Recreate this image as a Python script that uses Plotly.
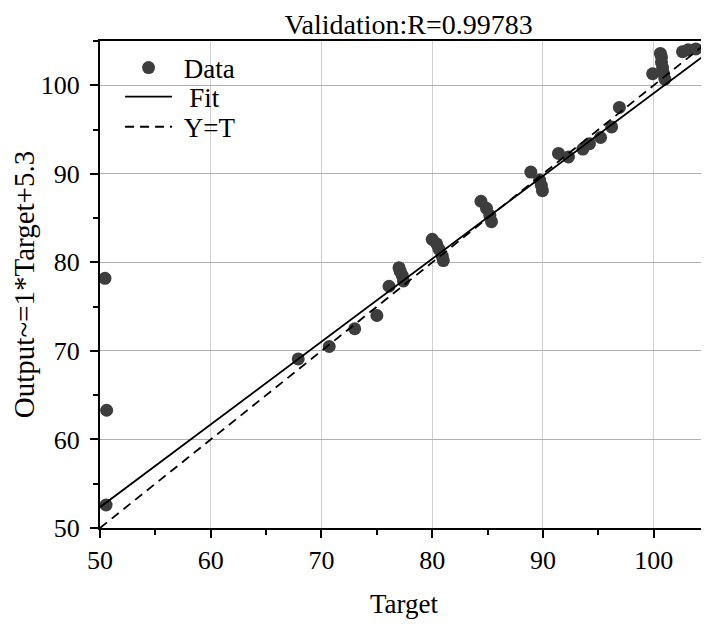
import plotly.graph_objects as go

title_text = "Validation:R=0.99783"
x_label = "Target"
y_label = "Output~=1*Target+5.3"

targets = [50.45, 50.6, 50.55, 67.9, 70.7, 73.0, 75.0, 76.1, 77.0, 77.1, 77.3, 77.4,
           80.0, 80.4, 80.6, 80.9, 81.0, 84.4, 84.9, 85.2, 85.35, 88.9, 89.7, 89.85,
           89.95, 91.4, 92.3, 93.6, 94.2, 95.2, 96.2, 96.9, 99.9, 100.6, 100.7, 100.7,
           100.8, 100.9, 101.0, 102.6, 103.1, 103.8]
outputs = [78.2, 63.3, 52.6, 69.1, 70.5, 72.5, 74.0, 77.3, 79.4, 79.0, 78.5, 77.9,
           82.6, 82.1, 81.5, 80.7, 80.2, 86.9, 86.1, 85.3, 84.6, 90.2, 89.3, 88.7,
           88.1, 92.3, 91.9, 92.8, 93.4, 94.1, 95.3, 97.5, 101.3, 103.6, 103.2, 102.6,
           102.0, 101.3, 100.7, 103.8, 104.0, 104.1]

fit_slope = 0.935
fit_intercept = 5.6
line_x = [50, 104.9]
y_line = [50, 104.9]

font_family = "Liberation Serif"

fig = go.Figure()
fig.add_trace(go.Scatter(x=targets, y=outputs, mode="markers", name="\u00a0Data",
                         marker=dict(size=13, color="#3d3d3d"), legend="legend",
                         showlegend=True))
fig.add_trace(go.Scatter(x=line_x, y=[fit_slope * v + fit_intercept for v in line_x],
                         mode="lines", name="\u00a0\u2009Fit", showlegend=True,
                         line=dict(color="black", width=1.8), legend="legend2"))
fig.add_trace(go.Scatter(x=line_x, y=y_line, mode="lines", name="\u00a0Y=T", showlegend=True,
                         line=dict(color="black", width=1.8, dash="9px,6px"), legend="legend3"))

axis_common = dict(
    showline=True, linecolor="black", linewidth=2, mirror=True,
    ticks="outside", ticklen=8, tickwidth=2, tickcolor="black",
    minor=dict(ticks="outside", ticklen=5, tickwidth=2, tickcolor="black", dtick=5, showgrid=False),
    dtick=10, zeroline=False, automargin=False,
    tickfont=dict(family=font_family, size=26, color="black"),
)

fig.update_xaxes(range=[50, 104.9], gridcolor="#cfcfcf", gridwidth=1,
                 title=dict(text=x_label, font=dict(family=font_family, size=27, color="black"), standoff=20),
                 **axis_common)
fig.update_yaxes(range=[50, 105], gridcolor="#b0b0b0", gridwidth=1, ticklabelstandoff=5,
                 title=dict(text=y_label, font=dict(family=font_family, size=29, color="black"), standoff=8),
                 **axis_common)

leg_common = dict(x=0.033, xanchor="left", yanchor="middle", bgcolor="rgba(0,0,0,0)",
                  font=dict(family=font_family, size=27, color="black"), itemwidth=47,
                  visible=True)

fig.update_layout(
    width=709, height=630,
    margin=dict(l=92, r=9, t=33, b=110, autoexpand=False),
    paper_bgcolor="white", plot_bgcolor="white",
    showlegend=True,
    title=dict(text=title_text, x=0.565, xanchor="center", xref="container",
               y=0.975, yanchor="middle", yref="container",
               font=dict(family=font_family, size=28, color="black")),
    legend=dict(y=0.9446, **leg_common),
    legend2=dict(y=0.885, **leg_common),
    legend3=dict(y=0.823, **leg_common),
    font=dict(family=font_family),
)

fig.write_html("out.html")
